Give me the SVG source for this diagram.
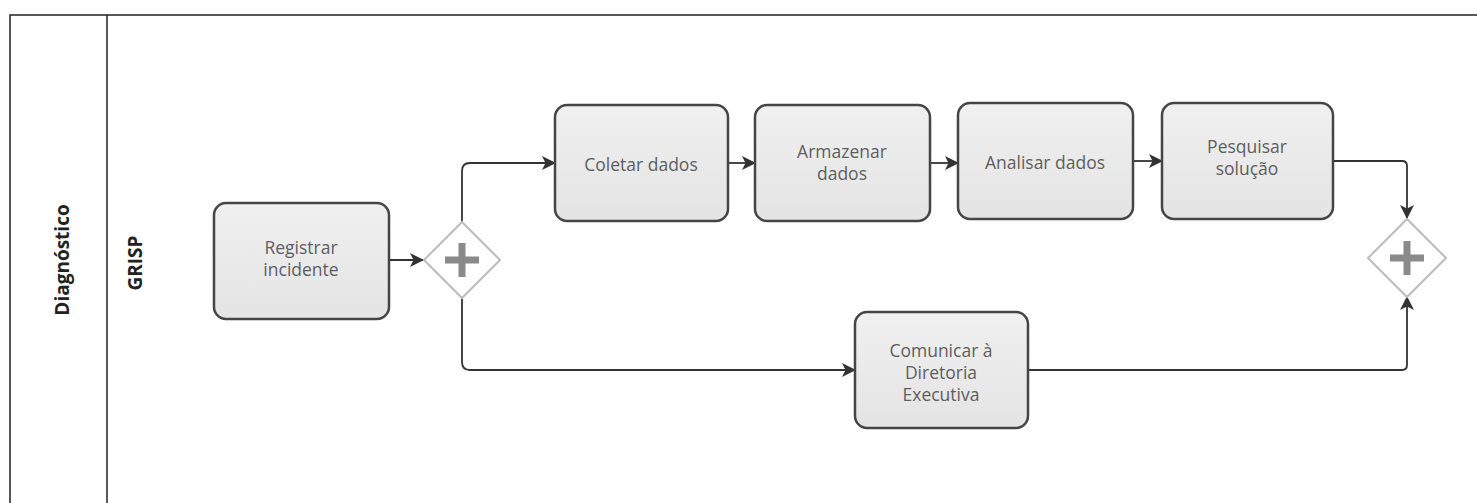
<svg xmlns="http://www.w3.org/2000/svg" width="1477" height="503" viewBox="0 0 1477 503">
<style>
.task rect{fill:url(#g);stroke:#454545;stroke-width:2.5}
.task text{font-family:"Open Sans","Noto Sans",sans-serif;font-size:17.5px;fill:#5e5e5e;text-anchor:middle}
.gw polygon{fill:#fff;stroke:#bcbcbc;stroke-width:2}
.gw path{stroke:#8a8a8a;stroke-width:7;fill:none}
.lane{font-family:"Open Sans","Noto Sans",sans-serif;font-size:19px;font-weight:bold;fill:#222;text-anchor:middle}
.conn path{fill:none;stroke:#333;stroke-width:1.8}
</style>
<defs>
<linearGradient id="g" x1="0" y1="0" x2="0" y2="1">
<stop offset="0" stop-color="#f0f0f0"/>
<stop offset="1" stop-color="#e4e4e4"/>
</linearGradient>
<marker id="a" viewBox="0 0 14 14" refX="13" refY="7" markerWidth="14" markerHeight="14" markerUnits="userSpaceOnUse" orient="auto">
<path d="M0,0 L14,7 L0,14 L3.5,7 Z" fill="#333"/>
</marker>
</defs>
<rect width="1477" height="503" fill="#fff"/>
<g id="pool">
<path d="M10,503 V15 H1477" fill="none" stroke="#222" stroke-width="1.5"/>
<path d="M107,15 V503" fill="none" stroke="#222" stroke-width="1.5"/>
<text class="lane" transform="translate(69,260) rotate(-90)">Diagnóstico</text>
<text class="lane" transform="translate(142,263) rotate(-90)">GRISP</text>
</g>
<g class="conn" id="connectors">
<path d="M390,260 H423" marker-end="url(#a)"/>
<path d="M462,222 V171 Q462,163 470,163 H555" marker-end="url(#a)"/>
<path d="M462,298 V362 Q462,370 470,370 H855" marker-end="url(#a)"/>
<path d="M728,163 H755" marker-end="url(#a)"/>
<path d="M930,163 H958" marker-end="url(#a)"/>
<path d="M1133,161 H1162" marker-end="url(#a)"/>
<path d="M1333,161 H1402 Q1407,161 1407,166 V218" marker-end="url(#a)"/>
<path d="M1028,370 H1402 Q1407,370 1407,365 V297" marker-end="url(#a)"/>
</g>
<g class="task" id="registrar"><rect x="214" y="203" width="175" height="116" rx="12"/><text x="301" y="254">Registrar</text><text x="301" y="276">incidente</text></g>
<g class="gw" id="gw1"><polygon points="462,222 500,260 462,298 424,260"/><path d="M462,243 V277 M445,260 H479"/></g>
<g class="task" id="coletar"><rect x="555" y="105" width="173" height="116" rx="12"/><text x="641" y="171">Coletar dados</text></g>
<g class="task" id="armazenar"><rect x="755" y="105" width="175" height="116" rx="12"/><text x="842" y="158">Armazenar</text><text x="842" y="180">dados</text></g>
<g class="task" id="analisar"><rect x="958" y="103" width="175" height="116" rx="12"/><text x="1045" y="169">Analisar dados</text></g>
<g class="task" id="pesquisar"><rect x="1162" y="103" width="171" height="116" rx="12"/><text x="1247" y="153">Pesquisar</text><text x="1247" y="175">solução</text></g>
<g class="task" id="comunicar"><rect x="855" y="312" width="173" height="116" rx="12"/><text x="941" y="357">Comunicar à</text><text x="941" y="379">Diretoria</text><text x="941" y="401">Executiva</text></g>
<g class="gw" id="gw2"><polygon points="1407,219 1446,258 1407,297 1368,258"/><path d="M1407,241 V275 M1390,258 H1424"/></g>
</svg>
